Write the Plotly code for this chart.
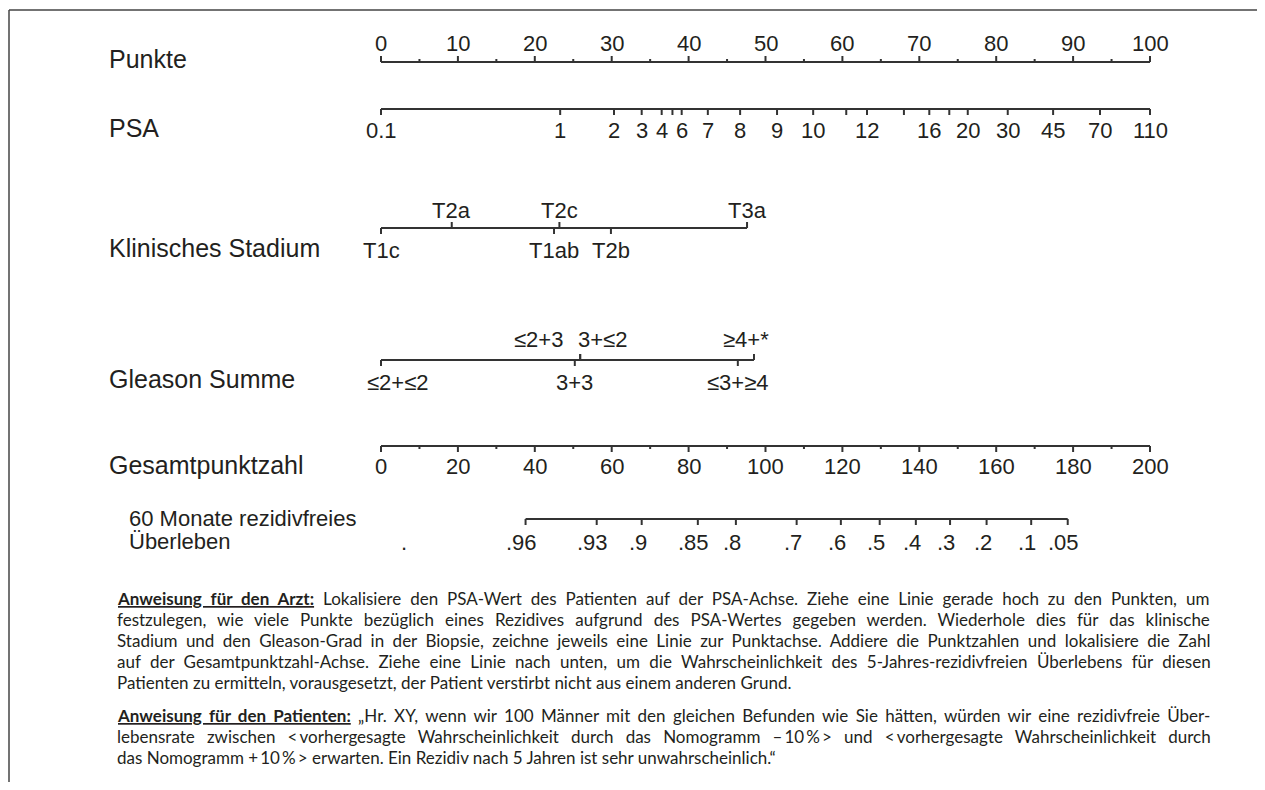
import plotly.graph_objects as go

# ---------------- data ----------------
punkte_major = [0, 10, 20, 30, 40, 50, 60, 70, 80, 90, 100]
punkte_minor = [5, 15, 25, 35, 45, 55, 65, 75, 85, 95]

psa_labels = ["0.1", "1", "2", "3", "4", "", "6", "7", "8", "9", "10", "", "12", "", "16", "", "20", "30", "45", "70", "110"]
psa_points = [0, 23.3, 30.3, 33.9, 36.5, 37.9, 39.1, 42.5, 46.7, 51.5, 56.2, 60.5, 63.2, 68.0, 71.3, 73.9, 76.3, 81.5, 87.4, 93.5, 100]

stage_labels = ["T1c", "T2a", "T1ab", "T2c", "T2b", "T3a"]
stage_points = [0, 9.2, 22.5, 23.2, 29.9, 47.6]
stage_above = [False, True, False, True, False, True]

gleason_labels = ["≤2+≤2", "≤2+3", "3+≤2", "3+3", "≤3+≥4", "≥4+*"]
gleason_points = [0, 25.9, 25.9, 25.2, 46.4, 48.5]
gleason_above = [False, True, True, False, False, True]

total_major = [0, 20, 40, 60, 80, 100, 120, 140, 160, 180, 200]
total_minor = [10, 30, 50, 70, 90, 110, 130, 150, 170, 190]

surv_labels = [".96", ".93", ".9", ".85", ".8", ".7", ".6", ".5", ".4", ".3", ".2", ".1", ".05"]
surv_total = [37.6, 56.1, 67.8, 82.4, 92.3, 108.1, 119.6, 129.7, 139.1, 148.0, 157.5, 169.1, 178.6]
stray_dot_total = [6.0]

row_labels = ["Punkte", "PSA", "Klinisches Stadium", "Gleason Summe", "Gesamtpunktzahl"]
surv_row_label = ["60 Monate rezidivfreies", "Überleben"]

para1 = [
    "<b><u>Anweisung für den Arzt:</u></b> Lokalisiere den PSA-Wert des Patienten auf der PSA-Achse. Ziehe eine Linie gerade hoch zu den Punkten, um",
    "festzulegen, wie viele Punkte bezüglich eines Rezidives aufgrund des PSA-Wertes gegeben werden. Wiederhole dies für das klinische",
    "Stadium und den Gleason-Grad in der Biopsie, zeichne jeweils eine Linie zur Punktachse. Addiere die Punktzahlen und lokalisiere die Zahl",
    "auf der Gesamtpunktzahl-Achse. Ziehe eine Linie nach unten, um die Wahrscheinlichkeit des 5-Jahres-rezidivfreien Überlebens für diesen",
    "Patienten zu ermitteln, vorausgesetzt, der Patient verstirbt nicht aus einem anderen Grund.",
]
para2 = [
    "<b><u>Anweisung für den Patienten:</u></b> „Hr. XY, wenn wir 100 Männer mit den gleichen Befunden wie Sie hätten, würden wir eine rezidivfreie Über-",
    "lebensrate zwischen &lt;\u2009vorhergesagte Wahrscheinlichkeit durch das Nomogramm \u2013\u200910\u2009%\u2009&gt; und &lt;\u2009vorhergesagte Wahrscheinlichkeit durch",
    "das Nomogramm +\u200910\u2009%\u2009&gt; erwarten. Ein Rezidiv nach 5 Jahren ist sehr unwahrscheinlich.\u201c",
]

# ---------------- layout / style constants ----------------
OFF = 8                                   # page body margin offset
W, H = 1265 - OFF, 790 - 2 * OFF          # figure fits the window without scrollbars
X0_PX, PX_PER_PT = 381.0, 7.69            # Punkte 0 -> 381 px, 100 -> 1150 px (page px)
LINE_C = "#333333"
TEXT_C = "#231f20"
AX_FONT = "Liberation Sans, Arial, sans-serif"
BODY_FONT = "Lato, 'Open Sans', sans-serif"
BODY_SIZE = 17
# justification (extra word spacing, px) per line
ws1 = [4.6, 6.7, 4.1, 5.0, 0]
ws2 = [3.0, 7.8, 0]

x_rng = [(OFF - X0_PX) / PX_PER_PT, (OFF + W - X0_PX) / PX_PER_PT]
x2_rng = [2 * x_rng[0], 2 * x_rng[1]]


def px(p):
    return (p - OFF) / W


Y_PUNKTE, Y_PSA, Y_STAGE, Y_GLEASON, Y_TOTAL, Y_SURV = 62, 109, 228, 360, 446, 519
TICK, MINOR = 6, 3


def segs(xs, y0, y1):
    xx, yy = [], []
    for x in xs:
        xx += [x, x, None]
        yy += [y0, y1, None]
    return xx, yy


fig = go.Figure()


def add_lines(xx, yy, axis="x"):
    fig.add_trace(go.Scatter(x=xx, y=yy, mode="lines", xaxis=axis, yaxis="y",
                             line=dict(color=LINE_C, width=2), hoverinfo="skip", showlegend=False))


# Punkte
add_lines([0, 100], [Y_PUNKTE, Y_PUNKTE])
add_lines(*segs(punkte_major, Y_PUNKTE, Y_PUNKTE - TICK))
add_lines(*segs(punkte_minor, Y_PUNKTE, Y_PUNKTE - MINOR))
# PSA
add_lines([psa_points[0], psa_points[-1]], [Y_PSA, Y_PSA])
add_lines(*segs(psa_points, Y_PSA, Y_PSA + TICK))
# Stage
add_lines([min(stage_points), max(stage_points)], [Y_STAGE, Y_STAGE])
for p, up in zip(stage_points, stage_above):
    add_lines([p, p], [Y_STAGE, Y_STAGE - TICK if up else Y_STAGE + TICK])
# Gleason
add_lines([min(gleason_points), max(gleason_points)], [Y_GLEASON, Y_GLEASON])
for p, up in zip(gleason_points, gleason_above):
    add_lines([p, p], [Y_GLEASON, Y_GLEASON - TICK if up else Y_GLEASON + TICK])
# Total points
add_lines([0, 200], [Y_TOTAL, Y_TOTAL], "x2")
add_lines(*segs(total_major, Y_TOTAL, Y_TOTAL + TICK), axis="x2")
add_lines(*segs(total_minor, Y_TOTAL, Y_TOTAL + MINOR), axis="x2")
# Survival
add_lines([surv_total[0], surv_total[-1]], [Y_SURV, Y_SURV], "x2")
add_lines(*segs(surv_total, Y_SURV, Y_SURV + TICK), axis="x2")

ann = []


def lab(x, y, text, xref="x", size=22, xanchor="center", xshift=0, font=AX_FONT):
    ann.append(dict(x=x, y=y, xref=xref, yref="y", text=text, showarrow=False,
                    xanchor=xanchor, yanchor="middle", xshift=xshift,
                    font=dict(family=font, size=size, color=TEXT_C)))


for v in punkte_major:
    lab(v, Y_PUNKTE - 19, str(v))
for l, p in zip(psa_labels, psa_points):
    if l:
        lab(p, Y_PSA + 21, l)
for l, p, up in zip(stage_labels, stage_points, stage_above):
    lab(p, Y_STAGE - 18 if up else Y_STAGE + 22, l)
g_shift = {"≤2+≤2": 16, "≤2+3": -42, "3+≤2": 22, "≥4+*": -8}
for l, p, up in zip(gleason_labels, gleason_points, gleason_above):
    lab(p, Y_GLEASON - 21 if up else Y_GLEASON + 22, l, xshift=g_shift.get(l, 0))
for v in total_major:
    lab(v, Y_TOTAL + 20, str(v), xref="x2")
for l, p in zip(surv_labels, surv_total):
    lab(p, Y_SURV + 23, l, xref="x2", xshift=-4)
for p in stray_dot_total:
    lab(p, Y_SURV + 23, ".", xref="x2")

# Row labels
row_y = [59, 128, 248, 379, 465]
for t, yy in zip(row_labels, row_y):
    ann.append(dict(x=px(107), y=yy, xref="paper", yref="y", text=t, showarrow=False,
                    xanchor="left", yanchor="middle",
                    font=dict(family=AX_FONT, size=25, color=TEXT_C)))
for t, yy in zip(surv_row_label, [518, 541]):
    ann.append(dict(x=px(127), y=yy, xref="paper", yref="y", text=t, showarrow=False,
                    xanchor="left", yanchor="middle",
                    font=dict(family=AX_FONT, size=22, color=TEXT_C)))

# Instruction paragraphs
for i, t in enumerate(para1):
    ann.append(dict(x=px(115), y=598 + 21 * i, xref="paper", yref="y",
                    text=f'<span style="word-spacing:{ws1[i]}px">{t}</span>', showarrow=False,
                    xanchor="left", yanchor="middle",
                    font=dict(family=BODY_FONT, size=BODY_SIZE, color=TEXT_C)))
for i, t in enumerate(para2):
    ann.append(dict(x=px(115), y=715 + 21 * i, xref="paper", yref="y",
                    text=f'<span style="word-spacing:{ws2[i]}px">{t}</span>', showarrow=False,
                    xanchor="left", yanchor="middle",
                    font=dict(family=BODY_FONT, size=BODY_SIZE, color=TEXT_C)))

# Frame (left, top, right)
FR = dict(color="#444", width=1.5)
shapes = [
    dict(type="line", xref="paper", yref="y", x0=px(9), x1=px(9), y0=10, y1=H + 40, line=FR),
    dict(type="line", xref="paper", yref="y", x0=px(9), x1=px(1263), y0=10, y1=10, line=FR),
    dict(type="line", xref="paper", yref="y", x0=px(1263), x1=px(1263), y0=10, y1=H + 40, line=FR),
]

fig.update_layout(
    width=W, height=H, margin=dict(l=0, r=0, t=0, b=0),
    paper_bgcolor="white", plot_bgcolor="white",
    xaxis=dict(range=x_rng, visible=False, domain=[0, 1]),
    xaxis2=dict(range=x2_rng, visible=False, overlaying="x", domain=[0, 1]),
    yaxis=dict(range=[OFF + H, OFF], visible=False, domain=[0, 1]),
    annotations=ann, shapes=shapes, showlegend=False,
)

fig.write_html("out.html")
